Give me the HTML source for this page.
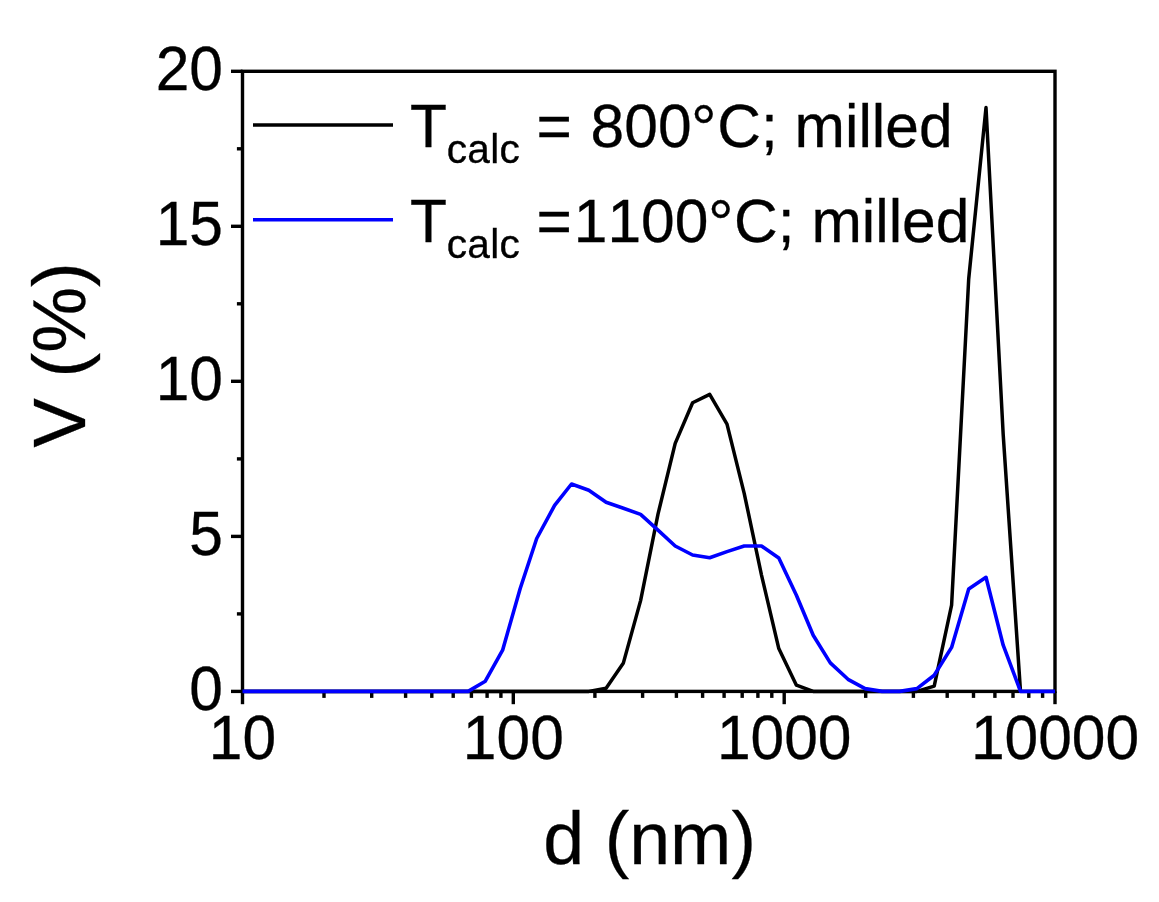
<!DOCTYPE html>
<html><head><meta charset="utf-8"><title>Particle size distribution</title>
<style>
html,body{margin:0;padding:0;background:#fff;}
body{width:1159px;height:902px;overflow:hidden;}
svg{display:block;}
text{font-family:"Liberation Sans",Arial,sans-serif;fill:#000;stroke:#000;stroke-width:0.3px;font-kerning:none;}
</style></head><body>
<svg width="1159" height="902" viewBox="0 0 1159 902">
<rect width="1159" height="902" fill="#fff"/>
<g stroke="#000" stroke-width="3.4" fill="none" stroke-linecap="butt">
<rect x="242.5" y="71.3" width="812.5" height="620.1"/>
<line x1="231.0" x2="242.5" y1="691.4" y2="691.4"/>
<line x1="231.0" x2="242.5" y1="536.4" y2="536.4"/>
<line x1="231.0" x2="242.5" y1="381.3" y2="381.3"/>
<line x1="231.0" x2="242.5" y1="226.3" y2="226.3"/>
<line x1="231.0" x2="242.5" y1="71.3" y2="71.3"/>
<line x1="236.9" x2="242.5" y1="613.9" y2="613.9"/>
<line x1="236.9" x2="242.5" y1="458.9" y2="458.9"/>
<line x1="236.9" x2="242.5" y1="303.8" y2="303.8"/>
<line x1="236.9" x2="242.5" y1="148.8" y2="148.8"/>
<line x1="242.5" x2="242.5" y1="691.4" y2="704.2"/>
<line x1="324.0" x2="324.0" y1="691.4" y2="697.9"/>
<line x1="371.7" x2="371.7" y1="691.4" y2="697.9"/>
<line x1="405.6" x2="405.6" y1="691.4" y2="697.9"/>
<line x1="431.8" x2="431.8" y1="691.4" y2="697.9"/>
<line x1="453.2" x2="453.2" y1="691.4" y2="697.9"/>
<line x1="471.4" x2="471.4" y1="691.4" y2="697.9"/>
<line x1="487.1" x2="487.1" y1="691.4" y2="697.9"/>
<line x1="500.9" x2="500.9" y1="691.4" y2="697.9"/>
<line x1="513.3" x2="513.3" y1="691.4" y2="704.2"/>
<line x1="594.9" x2="594.9" y1="691.4" y2="697.9"/>
<line x1="642.6" x2="642.6" y1="691.4" y2="697.9"/>
<line x1="676.4" x2="676.4" y1="691.4" y2="697.9"/>
<line x1="702.6" x2="702.6" y1="691.4" y2="697.9"/>
<line x1="724.1" x2="724.1" y1="691.4" y2="697.9"/>
<line x1="742.2" x2="742.2" y1="691.4" y2="697.9"/>
<line x1="757.9" x2="757.9" y1="691.4" y2="697.9"/>
<line x1="771.8" x2="771.8" y1="691.4" y2="697.9"/>
<line x1="784.2" x2="784.2" y1="691.4" y2="704.2"/>
<line x1="865.7" x2="865.7" y1="691.4" y2="697.9"/>
<line x1="913.4" x2="913.4" y1="691.4" y2="697.9"/>
<line x1="947.2" x2="947.2" y1="691.4" y2="697.9"/>
<line x1="973.5" x2="973.5" y1="691.4" y2="697.9"/>
<line x1="994.9" x2="994.9" y1="691.4" y2="697.9"/>
<line x1="1013.0" x2="1013.0" y1="691.4" y2="697.9"/>
<line x1="1028.8" x2="1028.8" y1="691.4" y2="697.9"/>
<line x1="1042.6" x2="1042.6" y1="691.4" y2="697.9"/>
<line x1="1055.0" x2="1055.0" y1="691.4" y2="704.2"/>
</g>
<polyline points="242.5,691.4 588.8,691.4 606.1,688.3 623.4,662.9 640.6,600.6 658.0,514.1 675.2,443.4 692.6,402.7 709.7,394.4 727.0,424.1 744.2,493.3 761.5,575.1 778.8,648.6 796.4,685.2 813.2,691.4 916.9,691.4 934.2,686.1 951.6,605.2 968.7,279.0 986.0,107.6 1003.2,434.7 1020.5,691.4" fill="none" stroke="#000" stroke-width="3.5" stroke-linejoin="round"/>
<polyline points="242.5,691.4 468.1,691.4 485.3,681.2 502.6,650.2 520.2,588.5 536.7,538.5 554.6,505.4 571.5,484.0 588.8,490.2 606.1,502.3 623.4,508.2 640.6,514.4 658.0,530.2 675.2,546.0 692.6,555.0 709.7,557.8 727.0,551.6 744.2,546.0 761.5,546.0 778.8,558.1 796.4,595.3 813.2,635.3 830.3,662.9 848.0,679.3 865.1,688.6 882.1,691.4 899.7,691.4 916.9,688.6 934.2,675.3 951.6,647.4 968.7,589.1 986.0,577.3 1003.2,645.2 1020.5,691.4 1055.0,691.4" fill="none" stroke="#0000ff" stroke-width="3.6" stroke-linejoin="round"/>
<line x1="253" x2="393" y1="124.9" y2="124.9" stroke="#000" stroke-width="3.5"/>
<line x1="253" x2="393" y1="219.8" y2="219.8" stroke="#0000ff" stroke-width="3.5"/>
<text transform="translate(0,146.6) scale(1,1.02)" font-size="60.5"><tspan x="410.1" y="0">T</tspan><tspan x="446.7" y="16.37" font-size="40.6" letter-spacing="0.3">calc</tspan><tspan x="519.7" y="0"> =</tspan><tspan x="573.8" y="0"> 800</tspan><tspan x="691.1" y="3.14" font-size="64">°</tspan><tspan x="717.3" y="0">C; milled</tspan></text>
<text transform="translate(0,241.5) scale(1,1.02)" font-size="60.5"><tspan x="410.1" y="0">T</tspan><tspan x="446.7" y="16.37" font-size="40.6" letter-spacing="0.3">calc</tspan><tspan x="519.7" y="0"> =</tspan><tspan x="573.8" y="0">1100</tspan><tspan x="707.9" y="3.14" font-size="64">°</tspan><tspan x="734.1" y="0">C; milled</tspan></text>
<text transform="translate(223,710.2) scale(1,1.04)" font-size="60.5" text-anchor="end">0</text>
<text transform="translate(223,555.2) scale(1,1.04)" font-size="60.5" text-anchor="end">5</text>
<text transform="translate(223,400.1) scale(1,1.04)" font-size="60.5" text-anchor="end">10</text>
<text transform="translate(223,245.1) scale(1,1.04)" font-size="60.5" text-anchor="end">15</text>
<text transform="translate(223,90.1) scale(1,1.04)" font-size="60.5" text-anchor="end">20</text>
<text transform="translate(242.5,758.5) scale(1,1.04)" font-size="60.5" text-anchor="middle">10</text>
<text transform="translate(513.3,758.5) scale(1,1.04)" font-size="60.5" text-anchor="middle">100</text>
<text transform="translate(784.2,758.5) scale(1,1.04)" font-size="60.5" text-anchor="middle">1000</text>
<text transform="translate(1055.0,758.5) scale(1,1.04)" font-size="60.5" text-anchor="middle">10000</text>
<text x="649.6" y="864.2" font-size="73.6" text-anchor="middle">d (nm)</text>
<text transform="translate(85,447.4) rotate(-90) scale(1,1.012)" font-size="74">V (%)</text>
</svg></body></html>
